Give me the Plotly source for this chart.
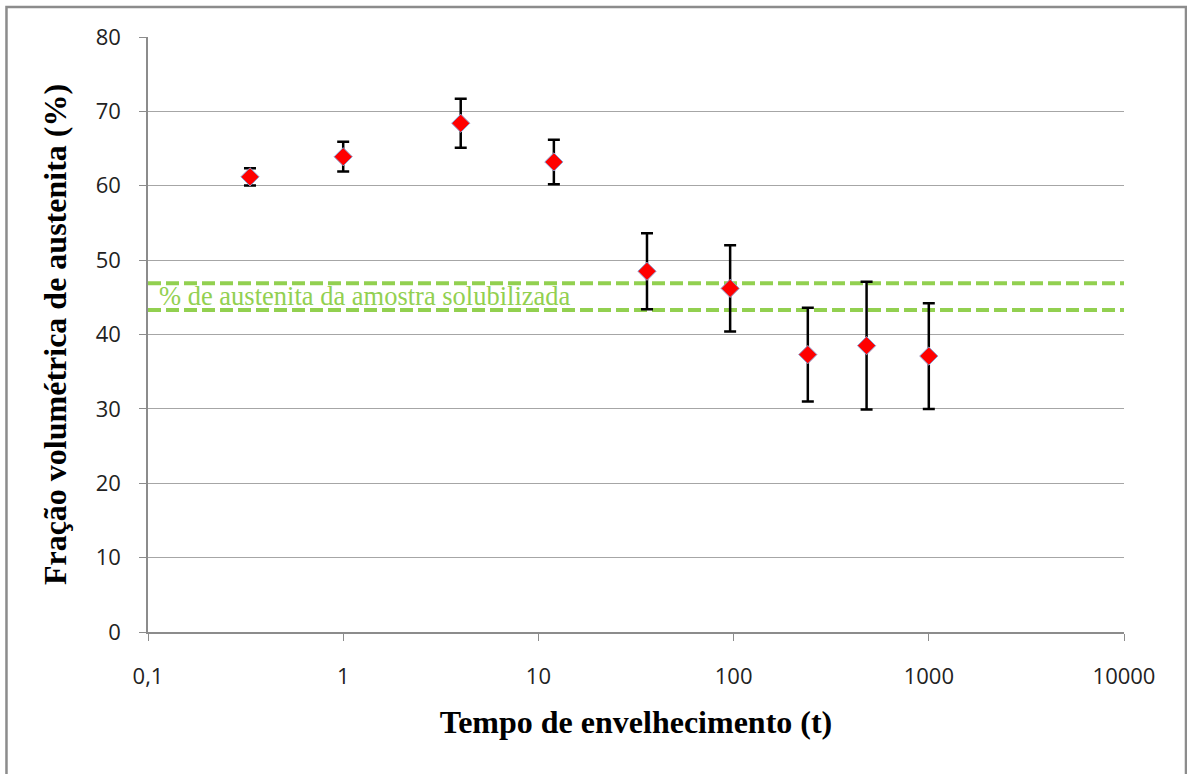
import plotly.graph_objects as go

# Aging time (h) and austenite volume fraction (%) with uncertainty
tempo = [0.333, 1, 4, 12, 36, 96, 240, 480, 1000]
austenita = [61.2, 63.9, 68.4, 63.2, 48.5, 46.2, 37.3, 38.5, 37.1]
erro = [1.15, 2.0, 3.3, 3.0, 5.1, 5.8, 6.3, 8.6, 7.1]

# Band of austenite content for the solution-treated sample
faixa_solubilizada = [46.9, 43.3]

x_ticks = [0.1, 1, 10, 100, 1000, 10000]
x_tick_text = ["0,1", "1", "10", "100", "1000", "10000"]
y_ticks = [0, 10, 20, 30, 40, 50, 60, 70, 80]

fig = go.Figure()

for nivel in faixa_solubilizada:
    fig.add_trace(go.Scatter(
        x=[0.1, 10000], y=[nivel, nivel], mode="lines",
        line=dict(color="#92D050", width=4, dash="13px,5px"),
        hoverinfo="skip", showlegend=False,
    ))

fig.add_trace(go.Scatter(
    x=tempo, y=austenita, mode="markers",
    marker=dict(symbol="diamond", size=14, color="#FF0000",
                line=dict(color="#8E9FD0", width=1)),
    error_y=dict(type="data", array=erro, visible=True,
                 color="#000000", thickness=2.5, width=6),
    showlegend=False,
))

fig.add_annotation(
    x=-1, y=sum(faixa_solubilizada) / 2, xref="x", yref="y",
    text="% de austenita da amostra solubilizada", showarrow=False,
    xanchor="left", yanchor="middle", xshift=9, yshift=1,
    font=dict(family="Liberation Serif, Times New Roman, serif", size=26.5,
              color="#92D050"),
)

# outer chart frame
fig.add_shape(type="rect", xref="paper", yref="paper",
              x0=-0.145, x1=1.0635, y0=-0.3, y1=1.0505,
              line=dict(color="#8C8C8C", width=2.5), layer="below")

fig.update_xaxes(
    type="log", range=[-1, 4],
    tickvals=x_ticks, ticktext=x_tick_text,
    showgrid=False, showline=True, linecolor="#8C8C8C", linewidth=1.5,
    ticks="outside", ticklen=7, tickcolor="#8C8C8C",
    ticklabelstandoff=17,
    tickfont=dict(family="Open Sans", size=22, color="#222222"),
    title=dict(text="<b>Tempo de envelhecimento (t)</b>",
               font=dict(family="Liberation Serif", size=32, color="#000000"),
               standoff=21),
    zeroline=False,
)
fig.update_yaxes(
    range=[0, 80], tickvals=y_ticks,
    showgrid=True, gridcolor="#A6A6A6", gridwidth=1.2,
    showline=True, linecolor="#8C8C8C", linewidth=1.5,
    ticks="outside", ticklen=7, tickcolor="#8C8C8C",
    ticklabelstandoff=14,
    tickfont=dict(family="Open Sans", size=22, color="#222222"),
    title=dict(text="<b>Fração volumétrica de austenita (%)</b>",
               font=dict(family="Liberation Serif", size=32, color="#000000"),
               standoff=19),
    zeroline=False,
)

fig.update_layout(
    width=1187, height=774,
    margin=dict(l=148, r=63, t=37, b=142),
    plot_bgcolor="#FFFFFF", paper_bgcolor="#FFFFFF",
)

fig.write_html("out.html")
